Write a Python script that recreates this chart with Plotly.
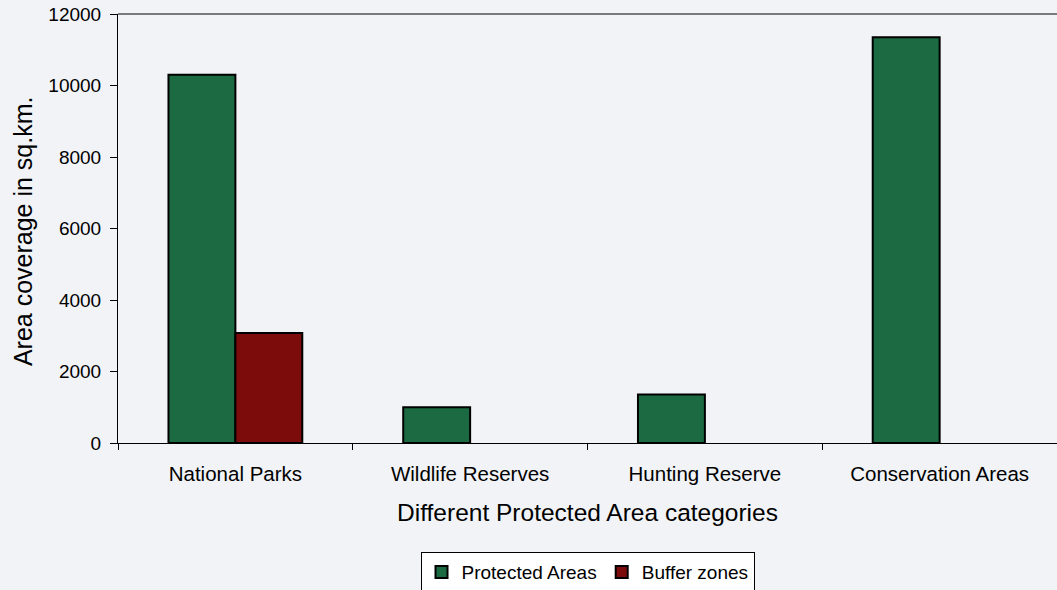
import plotly.graph_objects as go

categories = ["National Parks", "Wildlife Reserves", "Hunting Reserve", "Conservation Areas"]
protected_areas = [10300, 1000, 1360, 11350]
buffer_zones = [3080, None, None, None]
y_ticks = [0, 2000, 4000, 6000, 8000, 10000, 12000]
y_tick_labels = ["0", "2000", "4000", "6000", "8000", "10000", "12000"]

BG = "#f1f3f6"
FONT = "Liberation Sans, Arial, sans-serif"

fig = go.Figure()
fig.add_trace(go.Bar(
    x=categories, y=protected_areas, name="Protected Areas",
    marker=dict(color="#1b6a42", line=dict(color="#000000", width=2)),
))
fig.add_trace(go.Bar(
    x=categories, y=buffer_zones, name="Buffer zones",
    marker=dict(color="#7c0b0b", line=dict(color="#000000", width=2)),
))

fig.update_layout(
    width=1057, height=590,
    margin=dict(l=118, r=0, t=14, b=147, autoexpand=False),
    paper_bgcolor=BG, plot_bgcolor=BG,
    font=dict(family=FONT, color="#000000", size=19),
    barmode="group", bargap=0.43, bargroupgap=0,
    showlegend=True,
    legend=dict(
        orientation="h", x=0.5, xanchor="center", y=-0.301, yanchor="middle",
        bgcolor="#ffffff", bordercolor="#000000", borderwidth=1,
        font=dict(size=19, family=FONT), itemwidth=30, tracegroupgap=0,
    ),
    xaxis=dict(
        type="category", showline=True, linecolor="#000000", linewidth=1,
        mirror=False, ticks="outside", tickson="boundaries", ticklen=6,
        tickcolor="#000000", showgrid=False, tickfont=dict(size=20.5),
        ticklabelstandoff=12, automargin=False,
        title=dict(text="Different Protected Area categories",
                   font=dict(size=24.5), standoff=20),
    ),
    yaxis=dict(
        range=[0, 12000], tickvals=y_ticks, ticktext=y_tick_labels,
        showline=True, linecolor="#000000", automargin=False,
        linewidth=1, ticks="outside", ticklen=7, tickcolor="#000000",
        showgrid=False, zeroline=False, tickfont=dict(size=19),
        ticklabelstandoff=5,
    ),
    annotations=[dict(
        text="Area coverage in sq.km.", textangle=-90, showarrow=False,
        xref="paper", yref="paper", x=0, y=0.494, xanchor="center",
        yanchor="middle", xshift=-95, font=dict(size=25, family=FONT),
    )],
    shapes=[dict(
        type="line", xref="paper", yref="paper", x0=0, x1=1, y0=1, y1=1,
        line=dict(color="#000000", width=1),
    )],
)

fig.write_html("out.html")
